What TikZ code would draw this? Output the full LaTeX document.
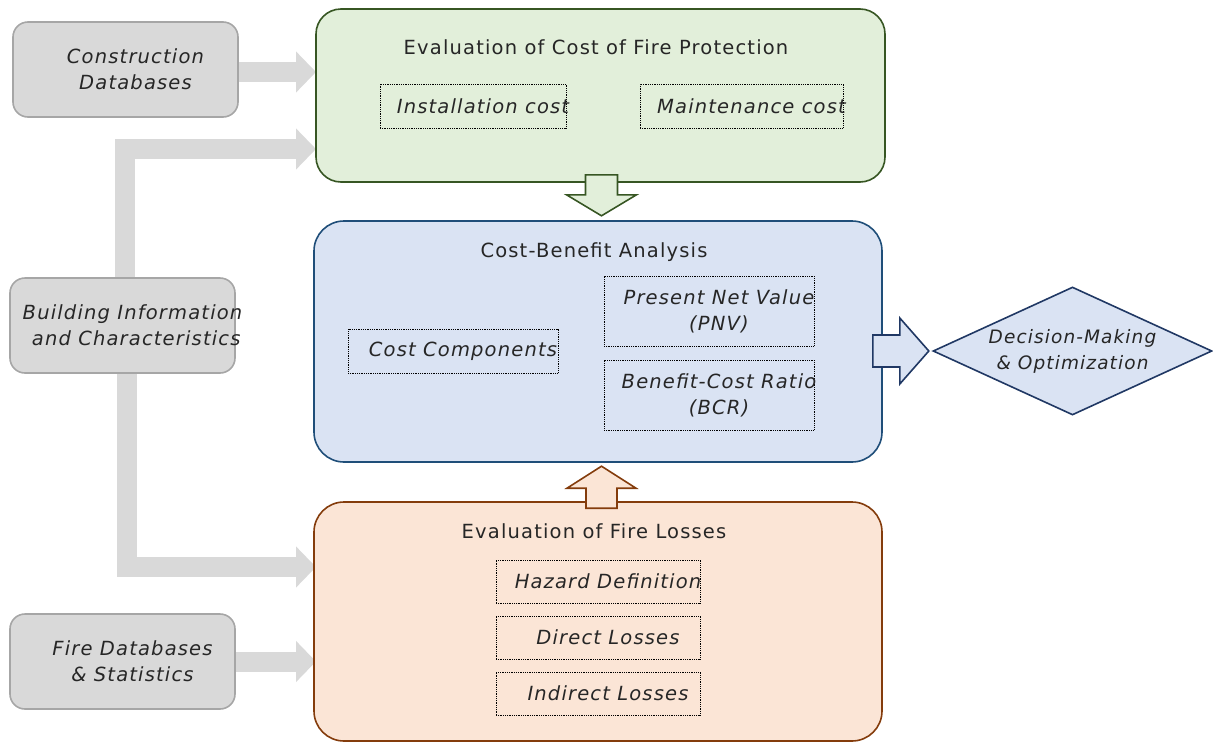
\documentclass[tikz,border=0pt]{standalone}
\usepackage{fontspec}
\setmainfont{DejaVu Sans}[LetterSpace=6]
\usetikzlibrary{arrows.meta,shapes.geometric}
\definecolor{greyfill}{HTML}{D9D9D9}
\definecolor{greyline}{HTML}{A6A6A6}
\definecolor{greenfill}{HTML}{E2EFDA}
\definecolor{greenline}{HTML}{375623}
\definecolor{bluefill}{HTML}{DAE3F3}
\definecolor{blueline}{HTML}{1F4E79}
\definecolor{navyline}{HTML}{203864}
\definecolor{orangefill}{HTML}{FBE5D6}
\definecolor{orangeline}{HTML}{843C0C}
\definecolor{txt}{HTML}{262626}
\newcommand{\ovl}[1]{\makebox[0pt]{\hspace*{20pt}#1}}
\begin{document}
\begin{tikzpicture}[x=1pt,y=1pt,
    every node/.style={text=txt,font=\fontsize{19.5}{26}\selectfont},
    srcbox/.style={draw=greyline,fill=greyfill,line width=1.6pt,rounded corners=15pt,
      minimum width=225pt,minimum height=95pt,align=center,font=\fontsize{19.5}{26}\selectfont\itshape},
    greenbox/.style={draw=greenline,fill=greenfill,line width=1.6pt,rounded corners=25pt},
    bluebox/.style={draw=blueline,fill=bluefill,line width=1.6pt,rounded corners=30pt},
    orangebox/.style={draw=orangeline,fill=orangefill,line width=1.6pt,rounded corners=30pt},
    subbox/.style={draw=black,densely dotted,line width=0.8pt,align=center,inner sep=0pt,
      font=\fontsize{19.5}{26}\selectfont\itshape},
    greyarrow/.style={draw=greyfill,line width=20pt,line join=miter,
      -{Triangle[length=20pt,width=40pt]}}]
  \useasboundingbox (0,0) rectangle (1213,-742);
  \node[srcbox] (constr) at (125.5,-69.5) {\ovl{Construction}\\\ovl{Databases}};
  \node[srcbox] (build) at (122.5,-325.5) {\ovl{Building Information}\\\ovl{\ and Characteristics}};
  \node[srcbox] (firedb) at (122.5,-661.5) {\ovl{Fire Databases}\\\ovl{\& Statistics}};
  \draw[greyarrow] ([yshift=-2.5pt]constr.east) -- (316,-72);
  \draw[greyarrow] ([xshift=2.5pt]build.north) |- (316,-149);
  \draw[greyarrow] ([xshift=4pt]build.south) |- (316,-567);
  \draw[greyarrow] (firedb.east) -- (316,-661.5);
  \node[greenbox,minimum width=569pt,minimum height=173pt] (green) at (600.5,-95.5) {};
  \node[bluebox,minimum width=568pt,minimum height=241pt] (blue) at (598,-341.5) {};
  \node[orangebox,minimum width=568pt,minimum height=239pt] (orange) at (598,-621.5) {};
  \node (greentitle) at (596,-47) {Evaluation of Cost of Fire Protection};
  \node[subbox,minimum width=186pt,minimum height=44pt] (install) at (473,-106) {\ovl{Installation cost}};
  \node[subbox,minimum width=203pt,minimum height=44pt] (maint) at (741.5,-106) {\ovl{Maintenance cost}};
  \node (bluetitle) at (594,-252) {Cost-Benefit Analysis};
  \node[subbox,minimum width=210pt,minimum height=44pt] (costcomp) at (453,-351) {\ovl{Cost Components}};
  \node[subbox,minimum width=210pt,minimum height=70pt] (pnv) at (709,-311) {\ovl{Present Net Value}\\\ovl{(PNV)}};
  \node[subbox,minimum width=210pt,minimum height=70pt] (bcr) at (709,-395) {\ovl{Benefit-Cost Ratio}\\\ovl{(BCR)}};
  \node (orangetitle) at (594,-531) {Evaluation of Fire Losses};
  \node[subbox,minimum width=204pt,minimum height=43pt] (hazard) at (598,-581.5) {\ovl{Hazard Definition}};
  \node[subbox,minimum width=204pt,minimum height=43pt] (direct) at (598,-637.5) {\ovl{Direct Losses}};
  \node[subbox,minimum width=204pt,minimum height=43pt] (indirect) at (598,-693.5) {\ovl{Indirect Losses}};
  \node[diamond,draw=navyline,fill=bluefill,line width=1.6pt,minimum width=279pt,minimum height=128pt,
    inner sep=0pt,aspect=2.18,align=center,font=\fontsize{18.5}{26}\selectfont\itshape] (decision)
    at (1072.5,-351) {Decision-Making\\\& Optimization};
  \draw[draw=greenline,fill=greenfill,line width=1.6pt] ([xshift=-15pt,yshift=8pt]green.south)
    -- ++(0,-20) -- ++(-19,0) -- ++(35,-21) -- ++(35,21) -- ++(-19,0) -- ++(0,20) -- cycle;
  \draw[draw=orangeline,fill=orangefill,line width=1.6pt] ([xshift=-12pt,yshift=-7pt]orange.north)
    -- ++(0,20) -- ++(-19,0) -- ++(34.5,22) -- ++(34.5,-22) -- ++(-19,0) -- ++(0,-20) -- cycle;
  \draw[draw=navyline,fill=bluefill,line width=1.6pt] ([xshift=-10pt,yshift=6.5pt]blue.east)
    -- ++(27,0) -- ++(0,17) -- ++(29,-33) -- ++(-29,-33) -- ++(0,17) -- ++(-27,0) -- cycle;
\end{tikzpicture}
\end{document}
